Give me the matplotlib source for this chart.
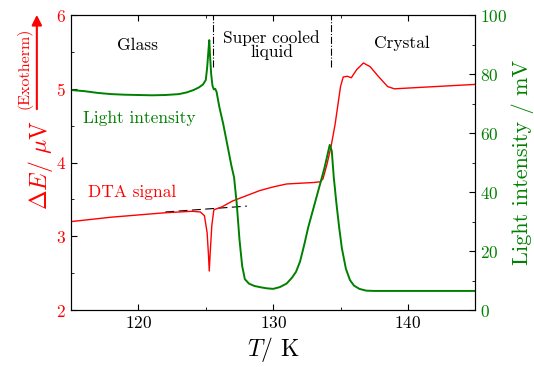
import numpy as np
import matplotlib
matplotlib.use("Agg")
import matplotlib.pyplot as plt

plt.rcParams['font.family'] = ['cmr10', 'DejaVu Serif']
plt.rcParams['mathtext.fontset'] = 'cm'
plt.rcParams['axes.unicode_minus'] = False
plt.rcParams['axes.formatter.use_mathtext'] = True

# DTA signal (left axis, uV)
T_dta = [115, 116, 118, 120, 122, 123, 124, 124.6, 124.9, 125.1, 125.2, 125.26,
         125.32, 125.45, 125.6, 126.2, 127, 128, 129, 130, 131, 132, 133, 133.5,
         133.7, 134.0, 134.3, 134.6, 135.0, 135.2, 135.5, 135.8, 136.2, 136.7,
         137.2, 137.8, 138.5, 139, 140, 142, 144, 145]
E_dta = [3.20, 3.22, 3.26, 3.29, 3.32, 3.33, 3.34, 3.33, 3.28, 3.05, 2.75, 2.53,
         2.75, 3.15, 3.36, 3.40, 3.48, 3.55, 3.62, 3.67, 3.71, 3.72, 3.73, 3.74,
         3.78, 3.98, 4.22, 4.52, 5.03, 5.16, 5.17, 5.15, 5.26, 5.35,
         5.30, 5.17, 5.03, 5.00, 5.01, 5.03, 5.05, 5.06]

# baseline (dashed)
T_base = [122.0, 128.05]
E_base = [3.33, 3.41]

# light intensity (right axis, mV)
T_li = [115, 116, 117, 118, 119, 120, 121, 122, 123, 123.6, 124.1, 124.5, 124.8,
        125.0, 125.1, 125.2, 125.26, 125.32, 125.4, 125.5, 125.6, 125.7, 125.8,
        126.0, 126.3, 126.6, 126.9, 127.1, 127.3, 127.5, 127.7, 127.9, 128.2,
        128.6, 129.0, 129.5, 130.0, 130.5, 131.0, 131.4, 131.7, 132.0, 132.3,
        132.6, 132.9, 133.2, 133.5, 133.8, 134.0, 134.2, 134.35, 134.5, 134.7,
        134.9, 135.1, 135.4, 135.7, 136.0, 136.4, 136.9, 137.5, 140, 145]
LI = [74.6, 74.2, 73.6, 73.2, 73.0, 72.9, 72.8, 72.9, 73.2, 73.8, 74.6, 75.5, 76.5,
      78.0, 82, 88, 91.5, 86, 80, 76, 74.8, 75.0, 74.0,
      69.0, 63, 56, 49, 45, 36, 24, 15, 10.5, 9.0,
      8.2, 7.8, 7.4, 7.2, 7.8, 9.0, 11.0, 13.0, 16.5, 22,
      28, 33, 38, 43, 48, 52, 56, 54, 45, 36,
      28, 21, 14, 10.2, 8.3, 7.2, 6.6, 6.5, 6.5, 6.5]

T_phase = [125.55, 134.3]

red = '#ff0000'
green = '#008000'
fs = 12.5

fig = plt.figure(figsize=(5.34, 3.67), dpi=100)
ax = fig.add_axes([0.133, 0.155, 0.757, 0.804])
ax2 = ax.twinx()

ax.plot(T_dta, E_dta, color=red, lw=1.0, zorder=3)
ax.plot(T_base, E_base, color='k', lw=0.8, ls=(0, (8, 4)), zorder=2)
for t in T_phase:
    ax.plot([t, t], [5.3, 6], color='k', lw=0.8, ls='-.')
ax2.plot(T_li, LI, color=green, lw=1.4)

ax.set_xlim(115, 145)
ax.set_ylim(2, 6)
ax2.set_ylim(0, 100)
ax.set_xticks([120, 130, 140])
ax.set_xticks([115, 125, 135, 145], minor=True)
ax.set_yticks([2, 3, 4, 5, 6])
ax.set_yticks([2.5, 3.5, 4.5, 5.5], minor=True)
ax2.set_yticks([0, 20, 40, 60, 80, 100])
ax2.set_yticks([10, 30, 50, 70, 90], minor=True)

ax.tick_params(axis='x', which='both', direction='in', top=True, labelsize=fs)
ax.tick_params(axis='y', which='both', direction='in', labelcolor=red, labelsize=fs)
ax2.tick_params(axis='y', which='both', direction='in', labelcolor=green, labelsize=fs)
ax.tick_params(which='major', length=4)
ax.tick_params(which='minor', length=2.5)
ax2.tick_params(which='major', length=4)
ax2.tick_params(which='minor', length=2.5)
for s in ax.spines.values():
    s.set_color('#222222')

ax.set_xlabel(r'$T$/ K', fontsize=17, labelpad=3)
ax2.set_ylabel('Light intensity / mV', color=green, fontsize=16, labelpad=3)

ax.text(119.9, 5.59, 'Glass', ha='center', va='center', fontsize=fs)
ax.text(129.9, 5.59, 'Super cooled\nliquid', ha='center', va='center',
        fontsize=fs, linespacing=0.9)
ax.text(139.55, 5.61, 'Crystal', ha='center', va='center', fontsize=fs)
ax.text(120.1, 4.60, 'Light intensity', ha='center', va='center',
        fontsize=fs, color=green)
ax.text(119.5, 3.60, 'DTA signal', ha='center', va='center',
        fontsize=fs, color=red)

fig.text(0.075, 0.55, r'$\Delta E$/ $\mu$V', rotation=90, color=red,
         fontsize=17, ha='center', va='center')
fig.text(0.045, 0.815, '(Exotherm)', rotation=90, color=red,
         fontsize=11.5, ha='center', va='center')
fig.add_artist(matplotlib.patches.FancyArrowPatch(
    (0.069, 0.695), (0.069, 0.967), transform=fig.transFigure,
    arrowstyle='-|>,head_length=6,head_width=3', color=red, lw=1.5))

fig.savefig('out.png', dpi=100)
